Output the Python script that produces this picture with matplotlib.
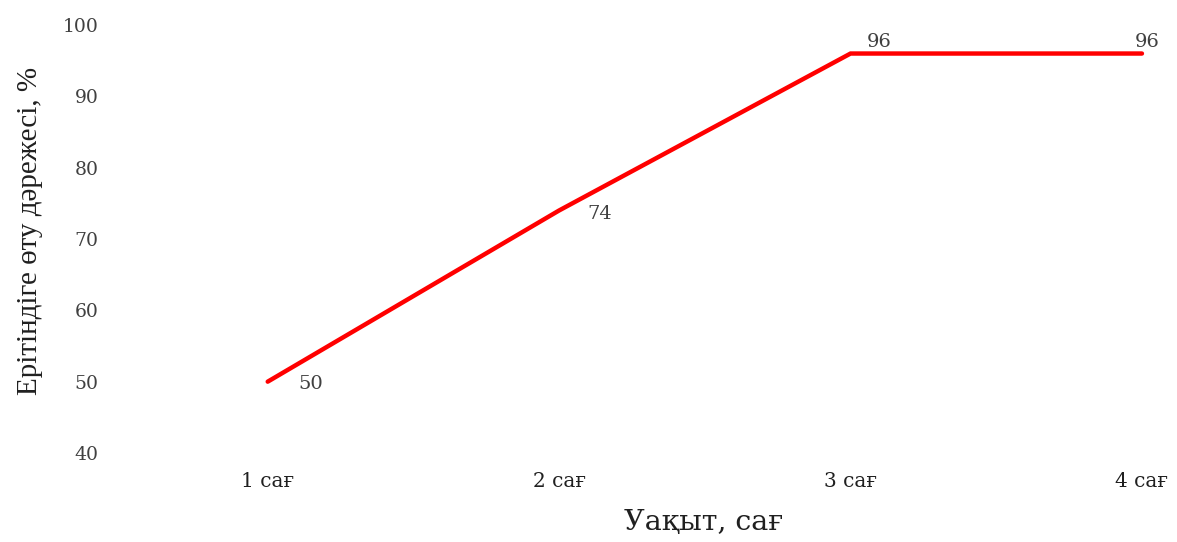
import matplotlib
matplotlib.use("Agg")
import matplotlib.pyplot as plt

categories = ["1 сағ", "2 сағ", "3 сағ", "4 сағ"]
values = [50, 74, 96, 96]
y_ticks = [40, 50, 60, 70, 80, 90, 100]

# label offsets (pixels, converted to points below)
label_offsets_px = [(43, -2), (41, -4), (29, 12), (5, 12)]

plt.rcParams['font.family'] = ['DejaVu Serif', 'Liberation Serif']

dpi = 100
fig = plt.figure(figsize=(1177 / dpi, 542 / dpi), dpi=dpi)
ax = fig.add_axes([122 / 1177, 1 - 453 / 542, 1 - 122 / 1177, (453 - 25) / 542])

x = list(range(len(categories)))
ax.plot(x, values, color="#ff0000", linewidth=3.2, solid_capstyle="round", solid_joinstyle="miter")

for xi, v, (dx, dy) in zip(x, values, label_offsets_px):
    ax.annotate(str(v), (xi, v), xytext=(dx * 72 / dpi, dy * 72 / dpi), textcoords="offset points",
                ha="center", va="center", fontsize=14, color="#404040")

ax.set_xlim(-0.5, 3 + 35 / 291)
ax.set_ylim(40, 100)
ax.set_yticks(y_ticks)
ax.set_xticks(x)
ax.set_xticklabels(categories, fontsize=14.5, color="#202020")
ax.tick_params(axis="y", labelsize=13.5, labelcolor="#404040", length=0, pad=17)
ax.tick_params(axis="x", length=0, pad=14)
for s in ax.spines.values():
    s.set_visible(False)

fig.text(704 / 1177, 1 - 522 / 542, "Уақыт, сағ", ha="center", va="center", fontsize=20.5, color="#202020")
fig.text(30 / 1177, 1 - 231 / 542, "Ерітіндіге өту дәрежесі, %", ha="center", va="center",
         rotation=90, fontsize=21, color="#202020", family=["Liberation Serif", "DejaVu Serif"])

fig.savefig("out.png", dpi=dpi)
